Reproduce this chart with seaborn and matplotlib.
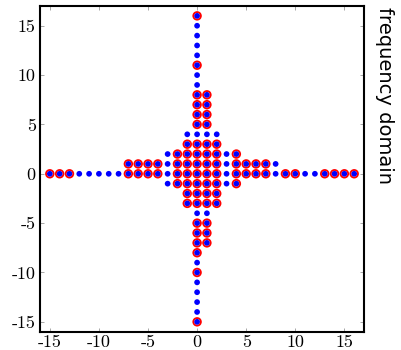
import matplotlib
matplotlib.use("Agg")
import matplotlib.pyplot as plt
import seaborn as sns
import pandas as pd

# Blue points (all grid locations), listed per row y
blue_rows = {
    16: [0], 15: [0], 14: [0], 13: [0], 12: [0], 11: [0], 10: [0], 9: [0],
    8: [0, 1], 7: [0, 1], 6: [0, 1], 5: [0, 1],
    4: [-1, 0, 1, 2], 3: [-1, 0, 1, 2],
    2: [-3, -2, -1, 0, 1, 2, 3, 4],
    1: [-7, -6, -5, -4, -3, -2, -1, 0, 1, 2, 3, 4, 5, 6, 7, 8],
    0: [-15, -14, -13, -12, -11, -10, -9, -8, -7, -6, -5, -4, -3, -2, -1, 0,
        1, 2, 3, 4, 5, 6, 7, 8, 9, 10, 11, 12, 13, 14, 15, 16],
    -1: [-3, -2, -1, 0, 1, 2, 3, 4],
    -2: [-1, 0, 1, 2], -3: [-1, 0, 1, 2],
    -4: [0, 1], -5: [0, 1], -6: [0, 1], -7: [0, 1],
    -8: [0], -9: [0], -10: [0], -11: [0], -12: [0], -13: [0], -14: [0], -15: [0],
}

# Red circled points (selected locations), listed per row y
red_rows = {
    16: [0], 11: [0],
    8: [0, 1], 7: [0, 1], 6: [0, 1], 5: [0, 1],
    3: [-1, 0, 1, 2],
    2: [-2, -1, 0, 1, 2, 4],
    1: [-7, -6, -5, -4, -2, -1, 0, 1, 2, 4, 5, 6, 7],
    0: [-15, -14, -13, -7, -6, -5, -4, -2, -1, 0, 1, 2, 4, 5, 6, 7, 9, 10,
        13, 14, 15, 16],
    -1: [-2, -1, 0, 1, 2, 4],
    -2: [-1, 0, 1, 2], -3: [-1, 0, 1, 2],
    -5: [0, 1], -6: [0, 1], -7: [0, 1],
    -8: [0], -10: [0], -15: [0],
}

tick_values = [-15, -10, -5, 0, 5, 10, 15]
side_label = "frequency domain"

blue_df = pd.DataFrame([(x, y) for y, xs in blue_rows.items() for x in xs],
                       columns=["x", "y"])
red_df = pd.DataFrame([(x, y) for y, xs in red_rows.items() for x in xs],
                      columns=["x", "y"])

sns.set_style("white")
plt.rcParams["font.family"] = ["cmr10", "DejaVu Sans"]
plt.rcParams["axes.unicode_minus"] = False
plt.rcParams["text.color"] = "black"
plt.rcParams["xtick.labelcolor"] = "black"
plt.rcParams["ytick.labelcolor"] = "black"

fig = plt.figure(figsize=(4.02, 3.50), dpi=100)
ax = fig.add_axes([40 / 402, 1 - 331.7 / 350, 324 / 402, 325.7 / 350])

sns.scatterplot(data=red_df, x="x", y="y", ax=ax, marker="o", s=30,
                facecolors="none", edgecolor="red", linewidth=1.3, zorder=2)
sns.scatterplot(data=blue_df, x="x", y="y", ax=ax, marker="o", s=17,
                color="blue", edgecolor="none", linewidth=0, zorder=3)

ax.set_xlim(-16, 17)
ax.set_ylim(-16, 17)
ax.set_xticks(tick_values)
ax.set_yticks(tick_values)
ax.set_xticklabels([str(v) for v in tick_values])
ax.set_yticklabels([str(v) for v in tick_values])
ax.set_xlabel("")
ax.set_ylabel("")
ax.tick_params(direction="in", length=3, width=0.6, color="#999999",
               top=True, right=True, bottom=True, left=True,
               labelsize=13, pad=3, labelcolor="black")
ax.tick_params(axis="x", pad=2)
for sp in ax.spines.values():
    sp.set_color("black")
    sp.set_linewidth(1.5)

fig.text(385 / 402, 1 - 7 / 350, side_label, rotation=270, ha="center",
         va="top", fontsize=14, family=["DejaVu Sans"], color="black")

fig.savefig("out.png", dpi=100)
